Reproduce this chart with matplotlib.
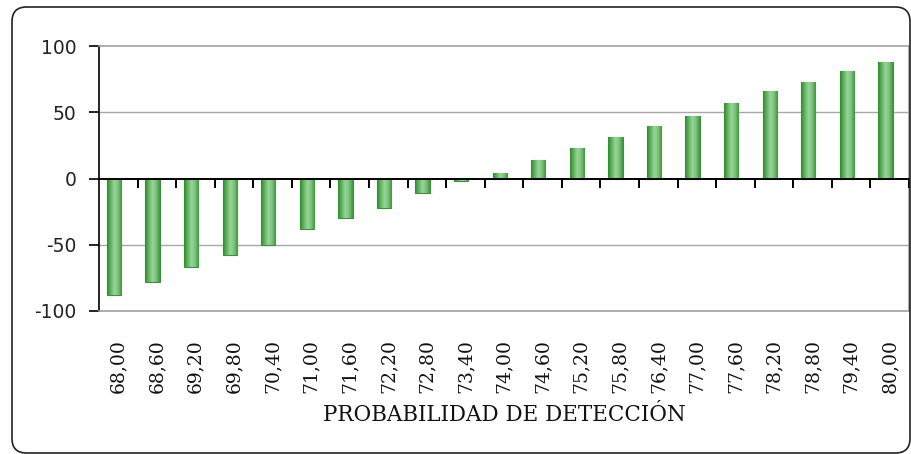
import numpy as np
import matplotlib
matplotlib.use("Agg")
import matplotlib.pyplot as plt
from matplotlib.patches import FancyBboxPatch
from matplotlib.colors import LinearSegmentedColormap

categories = ["68,00", "68,60", "69,20", "69,80", "70,40", "71,00", "71,60",
              "72,20", "72,80", "73,40", "74,00", "74,60", "75,20", "75,80",
              "76,40", "77,00", "77,60", "78,20", "78,80", "79,40", "80,00"]
values = [-88, -78, -67, -58, -50, -38, -30, -22, -11, -2, 4,
          14, 23, 31, 40, 47, 57, 66, 73, 81, 88]
y_ticks = [-100, -50, 0, 50, 100]
y_ticklabels = ["-100", "-50", "0", "50", "100"]
x_title = "PROBABILIDAD DE DETECCIÓN"

fig = plt.figure(figsize=(9.12, 4.54), dpi=100)
fig.patch.set_facecolor("white")

# outer rounded frame
frame = FancyBboxPatch((12 / 912, 1 / 454), 898 / 912, 446 / 454,
                       boxstyle="round,pad=0,rounding_size=0.016",
                       transform=fig.transFigure, facecolor="none",
                       edgecolor="#222222", linewidth=1.2, mutation_aspect=2.0)
fig.patches.append(frame)

ax = fig.add_axes([99 / 912, 1 - 311 / 454, 810 / 912, 265 / 454])
n = len(categories)
x = np.arange(n)

# gridlines
for yv in [50, -50]:
    ax.axhline(yv, color="#a8a8a8", linewidth=1.0, zorder=0)

offset = -0.11
bars = ax.bar(x + offset, values, width=0.37, color="#77c077",
              edgecolor="#3d8f3d", linewidth=0.8, zorder=3)

cmap = LinearSegmentedColormap.from_list(
    "g", ["#2f8a2f", "#62b362", "#9ad59a", "#7cc27c", "#3f953f"])
grad = np.linspace(0, 1, 64).reshape(1, -1)
for b in bars:
    bx, by = b.get_x(), b.get_y()
    w, h = b.get_width(), b.get_height()
    im = ax.imshow(grad, cmap=cmap, aspect="auto",
                   extent=[bx, bx + w, min(by, by + h), max(by, by + h)],
                   zorder=3.5, interpolation="bilinear")
    im.set_clip_path(b)
ax.set_xlim(-0.5, n - 0.5)
ax.set_ylim(-100, 100)

# zero axis with category boundary ticks
ax.axhline(0, color="black", linewidth=1.4, zorder=5)
for k in range(1, n + 1):
    bx = k - 0.5
    ax.plot([bx, bx], [0, -6.5], color="black", linewidth=1.4, zorder=5,
            clip_on=False)

for side in ["top", "right", "bottom"]:
    ax.spines[side].set_color("#a0a0a0")
    ax.spines[side].set_linewidth(1.2)
ax.spines["left"].set_color("black")
ax.spines["left"].set_linewidth(1.2)

ax.set_yticks(y_ticks)
ax.set_yticklabels(y_ticklabels, fontsize=13.5, family="DejaVu Sans",
                   color="#222222")
ax.tick_params(axis="y", direction="out", length=7, width=1.2, pad=9)

ax.set_xticks(x)
ax.set_xticklabels(categories, rotation=90, fontsize=13.5,
                   family="DejaVu Serif", color="#111111")
ax.tick_params(axis="x", length=0, pad=20)

ax.set_xlabel(x_title, fontsize=15.5, family="DejaVu Serif", labelpad=8,
              color="#111111")

fig.savefig("out.png", dpi=100, facecolor="white")
